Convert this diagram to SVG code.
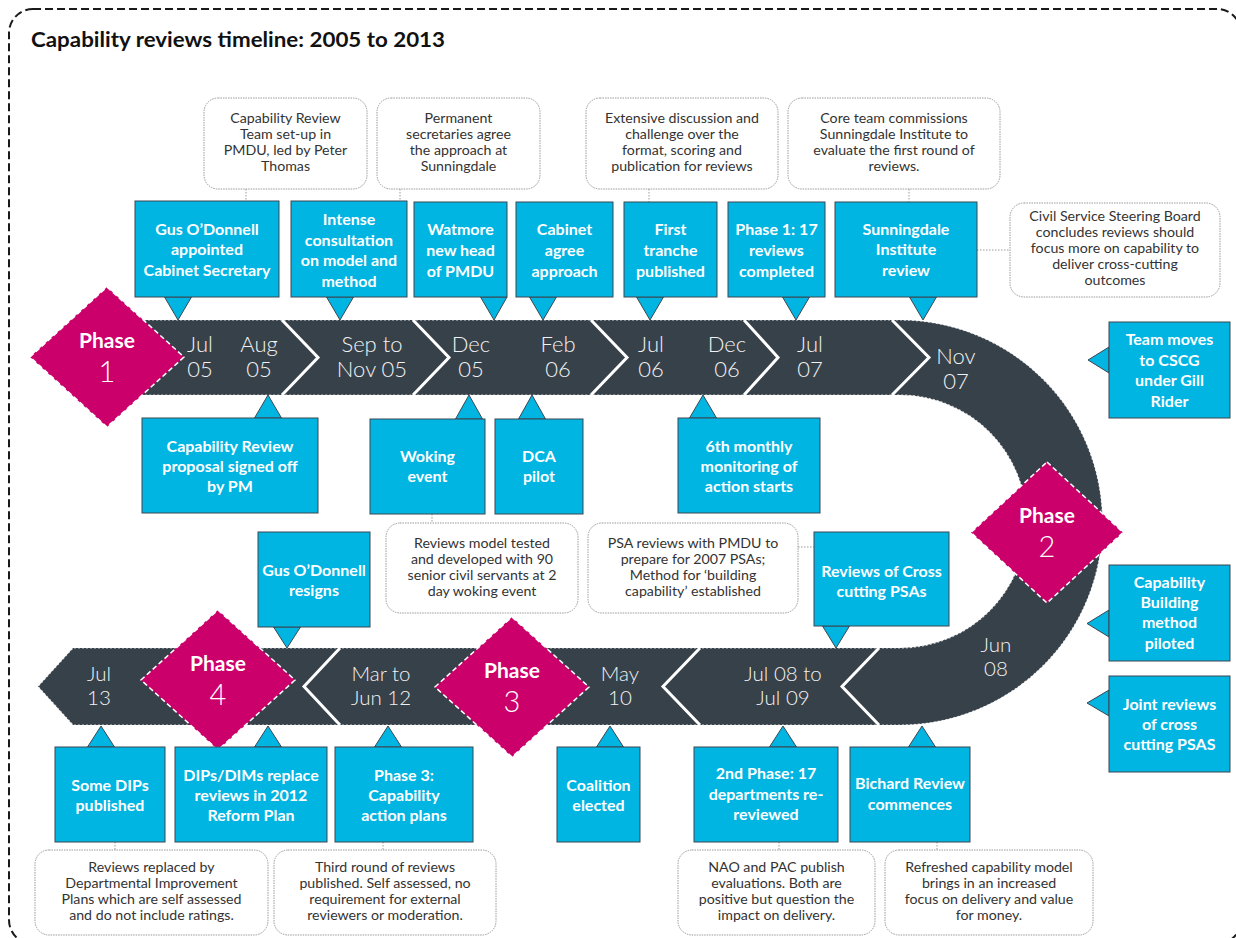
<svg xmlns="http://www.w3.org/2000/svg" width="1236" height="938" viewBox="0 0 1236 938">
  <style>
    .frame { fill: none; stroke: #1a1a1a; stroke-width: 2; stroke-dasharray: 8 4; }
    .title { font-family: Lato, "Liberation Sans", sans-serif; font-weight: 700; font-size: 21px; fill: #111; }
    .band { fill: #37414A; }
    .bandEdge { fill: none; stroke: #ffffff; stroke-width: 1.2; stroke-dasharray: 2 2; opacity: 0.75; }
    .chev { fill: none; stroke: #ffffff; stroke-width: 3; stroke-linejoin: miter; }
    .date { font-family: Lato, "Liberation Sans", sans-serif; font-weight: 300; font-size: 22px; fill: #F2F2F2; text-anchor: middle; }
    .dateS { font-family: Lato, "Liberation Sans", sans-serif; font-weight: 300; font-size: 20.5px; fill: #F2F2F2; text-anchor: middle; }
    .diamond { fill: #CC006B; stroke: #ffffff; stroke-width: 1.5; stroke-dasharray: 5 3; }
    .ph { font-family: Lato, "Liberation Sans", sans-serif; font-weight: 700; font-size: 21px; fill: #ffffff; text-anchor: middle; }
    .pn { font-family: Lato, "Liberation Sans", sans-serif; font-weight: 300; font-size: 29px; fill: #ffffff; text-anchor: middle; }
    .box { fill: #00B5E2; stroke: #3B4752; stroke-width: 1; }
    .bt { font-family: Lato, "Liberation Sans", sans-serif; font-weight: 700; font-size: 16px; fill: #ffffff; text-anchor: middle; }
    .note { fill: #ffffff; stroke: #9A9A9A; stroke-width: 1; stroke-dasharray: 1.5 1; }
    .nt { font-family: Lato, "Liberation Sans", sans-serif; font-size: 14.2px; fill: #333333; text-anchor: middle; }
    .link { fill: none; stroke: #9A9A9A; stroke-width: 1; stroke-dasharray: 1.5 1.5; }
  </style>

  <!-- outer dashed frame -->
  <rect class="frame" x="9" y="9" width="1232" height="935" rx="24"/>
  <text class="title" x="31" y="47" textLength="414" lengthAdjust="spacingAndGlyphs">Capability reviews timeline: 2005 to 2013</text>

  <!-- timeline band: top run, U-turn, bottom run ending in a left arrow -->
  <g id="timeline">
    <path class="band" d="M100 320 L900 320 A202.5 202.5 0 0 1 900 725 L73 725 L38 686.5 L73 648 L900 648 A126.5 126.5 0 0 0 900 395 L100 395 Z"/>
    <path class="bandEdge" d="M100 320 L900 320 A202.5 202.5 0 0 1 900 725 L73 725 L38 686.5 L73 648 L900 648 A126.5 126.5 0 0 0 900 395 L100 395"/>
    <path class="chev" d="M282 320 L318 357.5 L282 395"/>
    <path class="chev" d="M413 320 L449 357.5 L413 395"/>
    <path class="chev" d="M591 320 L627 357.5 L591 395"/>
    <path class="chev" d="M744 320 L778 357.5 L744 395"/>
    <path class="chev" d="M892 320 L929 357.5 L892 395"/>
    <path class="chev" d="M340 648 L304 686.5 L340 725"/>
    <path class="chev" d="M700 648 L663 686.5 L700 725"/>
    <path class="chev" d="M879 648 L842 686.5 L879 725"/>

    <text class="date" x="200" y="352">Jul</text><text class="date" x="200" y="377">05</text>
    <text class="date" x="259" y="352">Aug</text><text class="date" x="259" y="377">05</text>
    <text class="date" x="372" y="352">Sep to</text><text class="date" x="372" y="377">Nov 05</text>
    <text class="date" x="471" y="352">Dec</text><text class="date" x="471" y="377">05</text>
    <text class="date" x="558" y="352">Feb</text><text class="date" x="558" y="377">06</text>
    <text class="date" x="651" y="352">Jul</text><text class="date" x="651" y="377">06</text>
    <text class="date" x="727" y="352">Dec</text><text class="date" x="727" y="377">06</text>
    <text class="date" x="810" y="352">Jul</text><text class="date" x="810" y="377">07</text>
    <text class="date" x="956" y="364">Nov</text><text class="date" x="956" y="389">07</text>
    <text class="dateS" x="996" y="652">Jun</text><text class="dateS" x="996" y="676">08</text>
    <text class="dateS" x="783" y="681">Jul 08 to</text><text class="dateS" x="783" y="705">Jul 09</text>
    <text class="dateS" x="620" y="681">May</text><text class="dateS" x="620" y="705">10</text>
    <text class="dateS" x="381" y="681">Mar to</text><text class="dateS" x="381" y="705">Jun 12</text>
    <text class="dateS" x="99" y="681">Jul</text><text class="dateS" x="99" y="705">13</text>
  </g>

  <!-- phase markers -->
  <g id="phase1">
    <polygon class="diamond" points="107,287 184,357 107,427 30,357"/>
    <text class="ph" x="107" y="348">Phase</text>
    <text class="pn" x="107" y="382">1</text>
  </g>
  <g id="phase2">
    <polygon class="diamond" points="1047,462 1123,532.5 1047,603 971,532.5"/>
    <text class="ph" x="1047" y="523">Phase</text>
    <text class="pn" x="1047" y="557">2</text>
  </g>
  <g id="phase3">
    <polygon class="diamond" points="512,617 589,687 512,757 435,687"/>
    <text class="ph" x="512" y="678">Phase</text>
    <text class="pn" x="512" y="712">3</text>
  </g>
  <g id="phase4">
    <polygon class="diamond" points="218,610 295,680 218,750 141,680"/>
    <text class="ph" x="218" y="671">Phase</text>
    <text class="pn" x="218" y="705">4</text>
  </g>

  <!-- connectors between notes and event boxes -->
  <g id="connectors">
    <line class="link" x1="246" y1="189" x2="246" y2="201"/>
    <line class="link" x1="400" y1="189" x2="400" y2="201"/>
    <line class="link" x1="649" y1="189" x2="649" y2="202"/>
    <line class="link" x1="909" y1="189" x2="909" y2="202"/>
    <line class="link" x1="977" y1="250" x2="1010" y2="250"/>
    <line class="link" x1="432" y1="514" x2="432" y2="523"/>
    <line class="link" x1="798" y1="547" x2="814" y2="547"/>
    <line class="link" x1="115" y1="842" x2="115" y2="850"/>
    <line class="link" x1="383" y1="842" x2="383" y2="850"/>
    <line class="link" x1="779" y1="842" x2="779" y2="850"/>
    <line class="link" x1="937" y1="842" x2="937" y2="850"/>
  </g>

  <!-- notes above the top row -->
  <g id="note-team-setup">
    <rect class="note" x="204" y="98" width="163" height="91" rx="14"/>
    <text class="nt" x="285.5" y="123">Capability Review</text>
    <text class="nt" x="285.5" y="139">Team set-up in</text>
    <text class="nt" x="285.5" y="155">PMDU, led by Peter</text>
    <text class="nt" x="285.5" y="171">Thomas</text>
  </g>
  <g id="note-perm-secs">
    <rect class="note" x="377" y="98" width="163" height="91" rx="14"/>
    <text class="nt" x="458.5" y="123">Permanent</text>
    <text class="nt" x="458.5" y="139">secretaries  agree</text>
    <text class="nt" x="458.5" y="155">the approach at</text>
    <text class="nt" x="458.5" y="171">Sunningdale</text>
  </g>
  <g id="note-discussion">
    <rect class="note" x="586" y="98" width="192" height="91" rx="14"/>
    <text class="nt" x="682" y="123">Extensive discussion and</text>
    <text class="nt" x="682" y="139">challenge over the</text>
    <text class="nt" x="682" y="155">format, scoring and</text>
    <text class="nt" x="682" y="171">publication for reviews</text>
  </g>
  <g id="note-core-team">
    <rect class="note" x="788" y="98" width="212" height="91" rx="14"/>
    <text class="nt" x="894" y="123">Core team commissions</text>
    <text class="nt" x="894" y="139">Sunningdale  Institute to</text>
    <text class="nt" x="894" y="155">evaluate the first round of</text>
    <text class="nt" x="894" y="171">reviews.</text>
  </g>
  <g id="note-steering-board">
    <rect class="note" x="1010" y="203" width="210" height="94" rx="14"/>
    <text class="nt" x="1115" y="221">Civil Service Steering Board</text>
    <text class="nt" x="1115" y="237">concludes reviews should</text>
    <text class="nt" x="1115" y="253">focus more on capability to</text>
    <text class="nt" x="1115" y="269">deliver cross-cutting</text>
    <text class="nt" x="1115" y="285">outcomes</text>
  </g>

  <!-- top row events -->
  <g id="ev-gus-appointed">
    <polygon class="box" points="164.5,297 191.5,297 178,320"/>
    <rect class="box" x="135" y="201" width="144" height="96"/>
    <text class="bt" x="207" y="235">Gus O’Donnell</text>
    <text class="bt" x="207" y="255">appointed</text>
    <text class="bt" x="207" y="276">Cabinet  Secretary</text>
  </g>
  <g id="ev-consultation">
    <polygon class="box" points="326.5,297 353.5,297 340,320"/>
    <rect class="box" x="291" y="201" width="116" height="96"/>
    <text class="bt" x="349" y="225">Intense</text>
    <text class="bt" x="349" y="246">consultation</text>
    <text class="bt" x="349" y="266">on model  and</text>
    <text class="bt" x="349" y="287">method</text>
  </g>
  <g id="ev-watmore">
    <polygon class="box" points="480.5,297 507,297 494,320"/>
    <rect class="box" x="414" y="202" width="93" height="95"/>
    <text class="bt" x="460.5" y="235">Watmore</text>
    <text class="bt" x="460.5" y="256">new head</text>
    <text class="bt" x="460.5" y="277">of PMDU</text>
  </g>
  <g id="ev-cabinet">
    <polygon class="box" points="529.5,297 556.5,297 543,320"/>
    <rect class="box" x="516" y="202" width="97" height="95"/>
    <text class="bt" x="564.5" y="235">Cabinet</text>
    <text class="bt" x="564.5" y="256">agree</text>
    <text class="bt" x="564.5" y="277">approach</text>
  </g>
  <g id="ev-first-tranche">
    <polygon class="box" points="636.5,297 663.5,297 650,320"/>
    <rect class="box" x="624" y="202" width="93" height="95"/>
    <text class="bt" x="670.5" y="235">First</text>
    <text class="bt" x="670.5" y="256">tranche</text>
    <text class="bt" x="670.5" y="277">published</text>
  </g>
  <g id="ev-phase1-complete">
    <polygon class="box" points="782.5,297 809.5,297 796,320"/>
    <rect class="box" x="728" y="202" width="97" height="95"/>
    <text class="bt" x="776.5" y="235">Phase 1:  17</text>
    <text class="bt" x="776.5" y="256">reviews</text>
    <text class="bt" x="776.5" y="277">completed</text>
  </g>
  <g id="ev-sunningdale">
    <polygon class="box" points="909.5,297 936.5,297 923,320"/>
    <rect class="box" x="835" y="202" width="142" height="95"/>
    <text class="bt" x="906" y="235">Sunningdale</text>
    <text class="bt" x="906" y="255">Institute</text>
    <text class="bt" x="906" y="276">review</text>
  </g>

  <!-- events below the top run -->
  <g id="ev-proposal">
    <polygon class="box" points="254.5,418 281.5,418 268,395"/>
    <rect class="box" x="142" y="418" width="176" height="95"/>
    <text class="bt" x="230" y="452">Capability  Review</text>
    <text class="bt" x="230" y="472">proposal  signed off</text>
    <text class="bt" x="230" y="492">by PM</text>
  </g>
  <g id="ev-woking">
    <polygon class="box" points="455.5,419 482.5,419 469,395"/>
    <rect class="box" x="370" y="419" width="115" height="95"/>
    <text class="bt" x="427.5" y="462">Woking</text>
    <text class="bt" x="427.5" y="482">event</text>
  </g>
  <g id="ev-dca">
    <polygon class="box" points="518.5,419 545.5,419 532,395"/>
    <rect class="box" x="495" y="419" width="88" height="95"/>
    <text class="bt" x="539" y="462">DCA</text>
    <text class="bt" x="539" y="482">pilot</text>
  </g>
  <g id="ev-monitoring">
    <polygon class="box" points="689.5,418 716.5,418 703,395"/>
    <rect class="box" x="678" y="418" width="142" height="95"/>
    <text class="bt" x="749" y="452">6th monthly</text>
    <text class="bt" x="749" y="472">monitoring  of</text>
    <text class="bt" x="749" y="492">action starts</text>
  </g>
  <g id="ev-cscg">
    <polygon class="box" points="1109,347 1109,373 1088,360"/>
    <rect class="box" x="1109" y="322" width="121" height="96"/>
    <text class="bt" x="1169.5" y="345">Team  moves</text>
    <text class="bt" x="1169.5" y="366">to CSCG</text>
    <text class="bt" x="1169.5" y="386">under Gill</text>
    <text class="bt" x="1169.5" y="407">Rider</text>
  </g>

  <!-- middle notes -->
  <g id="note-woking">
    <rect class="note" x="386" y="523" width="192" height="90" rx="14"/>
    <text class="nt" x="482" y="548">Reviews model tested</text>
    <text class="nt" x="482" y="564">and developed with 90</text>
    <text class="nt" x="482" y="580">senior civil servants at 2</text>
    <text class="nt" x="482" y="596">day woking event</text>
  </g>
  <g id="note-psa">
    <rect class="note" x="588" y="523" width="210" height="90" rx="14"/>
    <text class="nt" x="693" y="548">PSA reviews with PMDU to</text>
    <text class="nt" x="693" y="564">prepare for 2007 PSAs;</text>
    <text class="nt" x="693" y="580">Method for ‘building</text>
    <text class="nt" x="693" y="596">capability’ established</text>
  </g>

  <!-- events above the bottom run -->
  <g id="ev-gus-resigns">
    <polygon class="box" points="273.5,627 300.5,627 287,648"/>
    <rect class="box" x="258" y="532" width="112" height="95"/>
    <text class="bt" x="314" y="576">Gus O’Donnell</text>
    <text class="bt" x="314" y="596">resigns</text>
  </g>
  <g id="ev-cross-cutting">
    <polygon class="box" points="822.5,626 849.5,626 836,648"/>
    <rect class="box" x="814" y="532" width="135" height="94"/>
    <text class="bt" x="881.5" y="577">Reviews  of Cross</text>
    <text class="bt" x="881.5" y="597">cutting  PSAs</text>
  </g>
  <g id="ev-building-method">
    <polygon class="box" points="1109,610 1109,637 1087,623.5"/>
    <rect class="box" x="1109" y="565" width="121" height="96"/>
    <text class="bt" x="1169.5" y="588">Capability</text>
    <text class="bt" x="1169.5" y="608">Building</text>
    <text class="bt" x="1169.5" y="628">method</text>
    <text class="bt" x="1169.5" y="649">piloted</text>
  </g>
  <g id="ev-joint-reviews">
    <polygon class="box" points="1109,690 1109,716 1087,703"/>
    <rect class="box" x="1109" y="676" width="121" height="96"/>
    <text class="bt" x="1169.5" y="710">Joint  reviews</text>
    <text class="bt" x="1169.5" y="730">of cross</text>
    <text class="bt" x="1169.5" y="750">cutting  PSAS</text>
  </g>

  <!-- events below the bottom run -->
  <g id="ev-some-dips">
    <polygon class="box" points="87.5,747 114.5,747 101,726"/>
    <rect class="box" x="55" y="747" width="110" height="95"/>
    <text class="bt" x="110" y="791">Some  DIPs</text>
    <text class="bt" x="110" y="811">published</text>
  </g>
  <g id="ev-dips-dims">
    <polygon class="box" points="254.5,747 281.5,747 268,726"/>
    <rect class="box" x="175" y="747" width="152" height="95"/>
    <text class="bt" x="251" y="781">DIPs/DIMs  replace</text>
    <text class="bt" x="251" y="801">reviews in 2012</text>
    <text class="bt" x="251" y="821">Reform  Plan</text>
  </g>
  <g id="ev-action-plans">
    <polygon class="box" points="374.5,747 401.5,747 388,726"/>
    <rect class="box" x="335" y="747" width="138" height="95"/>
    <text class="bt" x="404" y="781">Phase  3:</text>
    <text class="bt" x="404" y="801">Capability</text>
    <text class="bt" x="404" y="821">action plans</text>
  </g>
  <g id="ev-coalition">
    <polygon class="box" points="596.5,747 623.5,747 610,726"/>
    <rect class="box" x="557" y="747" width="83" height="95"/>
    <text class="bt" x="598.5" y="791">Coalition</text>
    <text class="bt" x="598.5" y="811">elected</text>
  </g>
  <g id="ev-second-phase">
    <polygon class="box" points="769.5,747 796.5,747 783,726"/>
    <rect class="box" x="694" y="747" width="144" height="95"/>
    <text class="bt" x="766" y="779">2nd Phase:  17</text>
    <text class="bt" x="766" y="800">departments  re-</text>
    <text class="bt" x="766" y="820">reviewed</text>
  </g>
  <g id="ev-bichard">
    <polygon class="box" points="908.5,747 935.5,747 922,726"/>
    <rect class="box" x="850" y="747" width="120" height="95"/>
    <text class="bt" x="910" y="789">Bichard Review</text>
    <text class="bt" x="910" y="810">commences</text>
  </g>

  <!-- bottom notes -->
  <g id="note-dips">
    <rect class="note" x="35" y="850" width="233" height="85" rx="14"/>
    <text class="nt" x="151.5" y="872">Reviews replaced by</text>
    <text class="nt" x="151.5" y="888">Departmental Improvement</text>
    <text class="nt" x="151.5" y="904">Plans which are self assessed</text>
    <text class="nt" x="151.5" y="920">and do not include  ratings.</text>
  </g>
  <g id="note-third-round">
    <rect class="note" x="274" y="850" width="222" height="85" rx="14"/>
    <text class="nt" x="385" y="872">Third round of reviews</text>
    <text class="nt" x="385" y="888">published. Self assessed, no</text>
    <text class="nt" x="385" y="904">requirement for external</text>
    <text class="nt" x="385" y="920">reviewers or moderation.</text>
  </g>
  <g id="note-nao-pac">
    <rect class="note" x="678" y="850" width="197" height="85" rx="14"/>
    <text class="nt" x="776.5" y="872">NAO and PAC publish</text>
    <text class="nt" x="776.5" y="888">evaluations. Both are</text>
    <text class="nt" x="776.5" y="904">positive but question the</text>
    <text class="nt" x="776.5" y="920">impact on delivery.</text>
  </g>
  <g id="note-refreshed">
    <rect class="note" x="885" y="850" width="208" height="85" rx="14"/>
    <text class="nt" x="989" y="872">Refreshed capability model</text>
    <text class="nt" x="989" y="888">brings in an  increased</text>
    <text class="nt" x="989" y="904">focus on delivery and value</text>
    <text class="nt" x="989" y="920">for money.</text>
  </g>
</svg>
